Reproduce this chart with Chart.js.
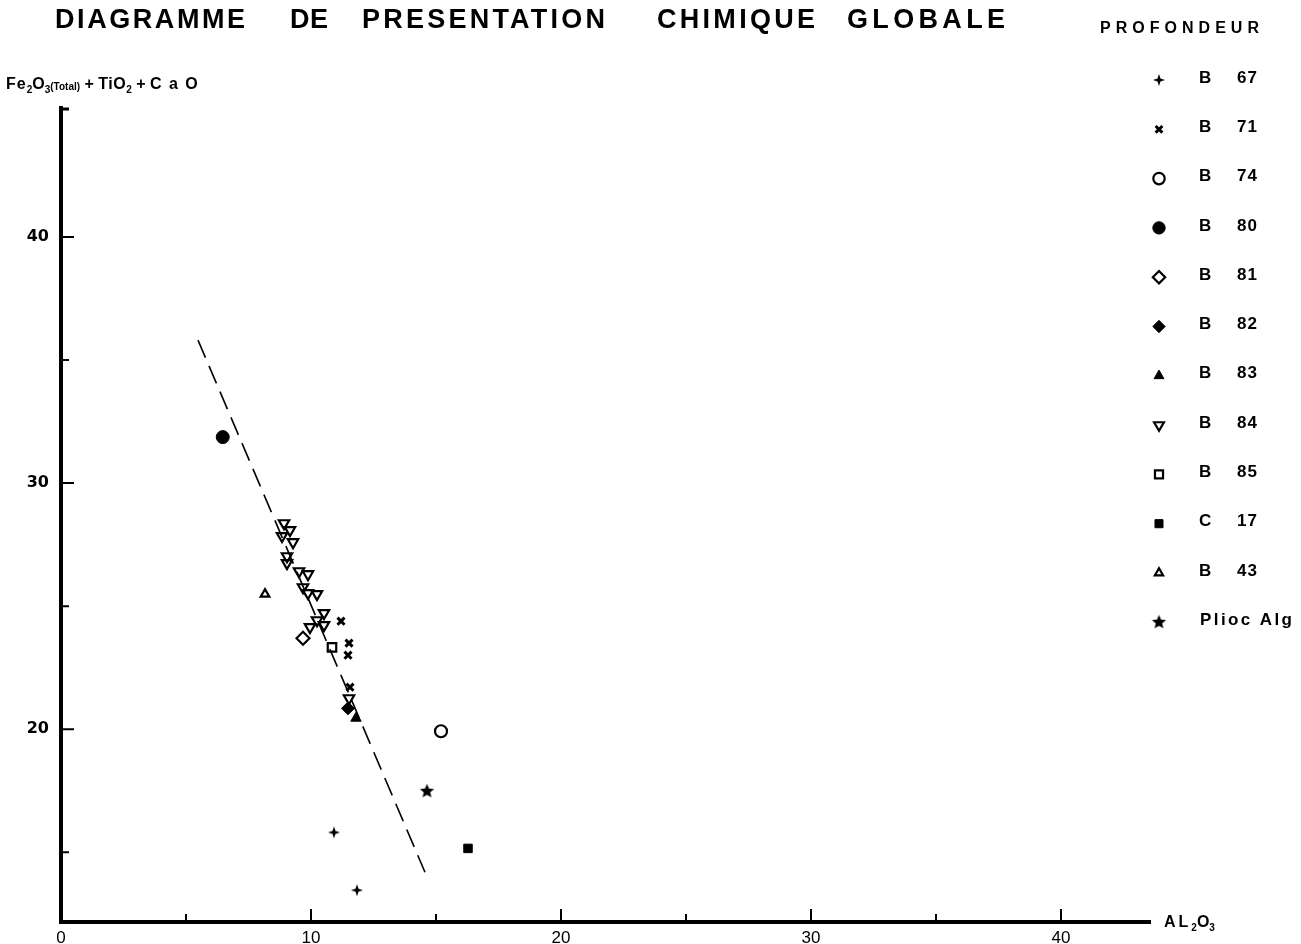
<!DOCTYPE html>
<html>
<head>
<meta charset="utf-8">
<script src="https://cdn.jsdelivr.net/npm/chart.js@4.4.1/dist/chart.umd.min.js"></script>
<style>
  html, body { margin: 0; padding: 0; background: #fff; }
  #wrap { position: relative; width: 1301px; height: 944px; }
</style>
</head>
<body>
<div id="wrap"><canvas id="chart" width="1301" height="944"></canvas></div>
<script>
// values: [AL2O3, Fe2O3(total)+TiO2+CaO]
const b67 = [[10.92, 15.81], [11.84, 13.46]];
const b71 = [[11.2, 24.39], [11.52, 23.5], [11.48, 23.01], [11.56, 21.71]];
const b74 = [[15.2, 19.92]];
const b80 = [[6.47, 31.87]];
const b81 = [[9.68, 23.7]];
const b82 = [[11.48, 20.85]];
const b83 = [[11.8, 20.45]];
const b84 = [
  [8.92, 28.37], [9.16, 28.09], [8.84, 27.85], [9.28, 27.6],
  [9.04, 27.03], [9.04, 26.75], [9.52, 26.42], [9.88, 26.3],
  [9.68, 25.77], [9.88, 25.53], [10.24, 25.49], [10.52, 24.72],
  [10.24, 24.43], [9.96, 24.15], [10.52, 24.23], [11.52, 21.26]
];
const b85 = [[10.84, 23.33]];
const c17 = [[16.28, 15.16]];
const b43 = [[8.16, 25.49]];
const pliocAlg = [[14.64, 17.48]];
const trendLine = [[5.48, 35.81], [14.56, 14.19]];

const legendCodes = ['B', 'B', 'B', 'B', 'B', 'B', 'B', 'B', 'B', 'C', 'B', 'Plioc Alg'];
const legendNums = ['67', '71', '74', '80', '81', '82', '83', '84', '85', '17', '43', ''];

const xMajorTicks = [0, 10, 20, 30, 40];
const xMinorTicks = [5, 15, 25, 35];
const yMajorTicks = [20, 30, 40];
const yMinorTicks = [15, 25, 35];

const titleWords = ['DIAGRAMME', 'DE', 'PRESENTATION', 'CHIMIQUE', 'GLOBALE'];
const legendTitle = 'PROFONDEUR';

// layout of the title words (left, width)
const titleBoxes = [[55, 190], [290, 38], [362, 243], [657, 158], [847, 158]];

function toPoints(list) {
  return list.map(p => ({ x: p[0], y: p[1] }));
}

// small custom markers
function makeStar(arms, outer, inner) {
  const size = Math.ceil(outer * 2 + 2);
  const c = document.createElement('canvas');
  c.width = size;
  c.height = size;
  const g = c.getContext('2d');
  g.translate(size / 2, size / 2);
  g.beginPath();
  for (let i = 0; i < arms * 2; i++) {
    const r = i % 2 === 0 ? outer : inner;
    const a = -Math.PI / 2 + i * Math.PI / arms;
    g.lineTo(r * Math.cos(a), r * Math.sin(a));
  }
  g.closePath();
  g.fillStyle = '#000';
  g.fill();
  return c;
}
const star4 = makeStar(4, 6, 2.1);
const star5 = makeStar(5, 7.5, 3.4);

const OPEN = 'rgba(0,0,0,0)';
const INK = '#000';

function series(label, data, style, radius, filled, extra) {
  return Object.assign({
    label: label,
    data: toPoints(data),
    pointStyle: style,
    pointRadius: radius,
    pointHoverRadius: radius,
    pointBorderWidth: filled ? 1 : 2.2,
    pointBackgroundColor: filled ? INK : OPEN,
    pointBorderColor: INK,
    backgroundColor: filled ? INK : OPEN,
    borderColor: INK,
    showLine: false
  }, extra || {});
}

const datasets = [
  series('B 67', b67, star4, 6, true),
  series('B 71', b71, 'crossRot', 5, false, { pointBorderWidth: 3 }),
  series('B 74', b74, 'circle', 6, false),
  series('B 80', b80, 'circle', 6.5, true),
  series('B 81', b81, 'rectRot', 6.5, false),
  series('B 82', b82, 'rectRot', 6.5, true),
  series('B 83', b83, 'triangle', 6, true),
  series('B 84', b84, 'triangle', 6, false, { pointRotation: 180 }),
  series('B 85', b85, 'rect', 6, false),
  series('C 17', c17, 'rect', 6, true),
  series('B 43', b43, 'triangle', 5, false),
  series('Plioc Alg', pliocAlg, star5, 7, true),
  {
    type: 'line',
    label: 'trend',
    data: toPoints(trendLine),
    borderColor: INK,
    borderWidth: 1.6,
    borderDash: [19, 9],
    pointRadius: 0,
    showLine: true,
    fill: false
  }
];

function fitText(ctx, text, x, y, width) {
  ctx.letterSpacing = '0px';
  const natural = ctx.measureText(text).width;
  const n = text.length;
  const sp = n > 1 ? (width - natural) / (n - 1) : 0;
  ctx.letterSpacing = sp + 'px';
  ctx.fillText(text, x, y);
  ctx.letterSpacing = '0px';
}

function drawRuns(ctx, runs, x, y) {
  runs.forEach(r => {
    ctx.font = r[1];
    ctx.letterSpacing = (r[3] || 0) + 'px';
    ctx.fillText(r[0], x, y + r[2]);
    x += ctx.measureText(r[0]).width;
  });
  ctx.letterSpacing = '0px';
}

const decorations = {
  id: 'decorations',
  afterDraw(chart) {
    const ctx = chart.ctx;
    const xs = chart.scales.x;
    const ys = chart.scales.y;
    const area = chart.chartArea;
    ctx.save();
    ctx.fillStyle = INK;
    ctx.strokeStyle = INK;

    // inward tick marks
    ctx.lineWidth = 2;
    ctx.beginPath();
    xMajorTicks.concat(xMinorTicks).forEach(v => {
      if (v === 0) return;
      const px = xs.getPixelForValue(v);
      const len = xMajorTicks.includes(v) ? 13 : 8;
      ctx.moveTo(px, area.bottom);
      ctx.lineTo(px, area.bottom - len);
    });
    yMajorTicks.concat(yMinorTicks).forEach(v => {
      const py = ys.getPixelForValue(v);
      const len = yMajorTicks.includes(v) ? 13 : 8;
      ctx.moveTo(area.left, py);
      ctx.lineTo(area.left + len, py);
    });
    ctx.stroke();

    // little bracket on top of the y axis
    ctx.lineWidth = 3;
    ctx.beginPath();
    ctx.moveTo(area.left - 2, area.top + 1);
    ctx.lineTo(area.left + 8, area.top + 1);
    ctx.stroke();

    // title
    ctx.textBaseline = 'alphabetic';
    ctx.textAlign = 'left';
    ctx.font = 'bold 27px "Liberation Sans", Arial, sans-serif';
    titleWords.forEach((w, i) => fitText(ctx, w, titleBoxes[i][0], 28, titleBoxes[i][1]));

    // y axis title
    const big = 'bold 16px "Liberation Sans", Arial, sans-serif';
    const sub = 'bold 10px "Liberation Sans", Arial, sans-serif';
    drawRuns(ctx, [
      ['Fe', big, 0, 1], ['2', sub, 4], ['O', big, 0], ['3', sub, 4],
      ['(Total)', sub, 1], [' + ', big, 0], ['TiO', big, 0, 0.5], ['2', sub, 4],
      [' + ', big, 0], ['C a O', big, 0, 1.5]
    ], 6, 89);

    // x axis title
    drawRuns(ctx, [
      ['AL', big, 0, 3], ['2', sub, 4], ['O', big, 0], ['3', sub, 4]
    ], 1164, 927);

    // legend
    ctx.font = 'bold 16px "Liberation Sans", Arial, sans-serif';
    fitText(ctx, legendTitle, 1100, 33, 159);
    ctx.textBaseline = 'middle';
    const h = Chart.helpers;
    for (let i = 0; i < legendCodes.length; i++) {
      const ds = datasets[i];
      const y = 78 + i * 49.3;
      ctx.fillStyle = ds.pointBackgroundColor;
      ctx.strokeStyle = INK;
      ctx.lineWidth = ds.pointBorderWidth;
      if (h && h.drawPoint) {
        h.drawPoint(ctx, {
          pointStyle: ds.pointStyle,
          rotation: ds.pointRotation || 0,
          radius: ds.pointRadius * 0.95,
          borderWidth: ds.pointBorderWidth
        }, 1159, y + 2);
      }
      ctx.fillStyle = INK;
      ctx.font = 'bold 17px "Liberation Sans", Arial, sans-serif';
      if (legendNums[i]) {
        ctx.fillText(legendCodes[i], 1199, y);
        ctx.letterSpacing = '1px';
        ctx.fillText(legendNums[i], 1237, y);
        ctx.letterSpacing = '0px';
      } else {
        fitText(ctx, legendCodes[i], 1200, y, 92);
      }
    }
    ctx.restore();
  }
};

new Chart(document.getElementById('chart'), {
  type: 'scatter',
  data: { datasets: datasets },
  options: {
    responsive: false,
    animation: false,
    layout: { padding: { top: 108, right: 151, left: 0, bottom: 0 } },
    plugins: {
      legend: { display: false },
      tooltip: { enabled: false },
      title: { display: false }
    },
    scales: {
      x: {
        type: 'linear',
        min: 0,
        max: 43.56,
        afterFit: s => { s.height = 22; },
        afterBuildTicks: s => { s.ticks = xMajorTicks.map(v => ({ value: v })); },
        grid: { display: false, drawTicks: false },
        border: { display: true, width: 4, color: INK },
        ticks: {
          color: INK,
          padding: 6,
          autoSkip: false,
          maxRotation: 0,
          font: { family: '"Liberation Sans", Arial, sans-serif', size: 17 }
        }
      },
      y: {
        type: 'linear',
        min: 12.17,
        max: 45.24,
        afterFit: s => { s.width = 61; },
        afterBuildTicks: s => { s.ticks = yMajorTicks.map(v => ({ value: v })); },
        grid: { display: false, drawTicks: false },
        border: { display: true, width: 4, color: INK },
        ticks: {
          color: INK,
          padding: 12,
          font: { family: '"DejaVu Sans", sans-serif', size: 16, weight: 'bold' }
        }
      }
    }
  },
  plugins: [decorations]
});
</script>
</body>
</html>
